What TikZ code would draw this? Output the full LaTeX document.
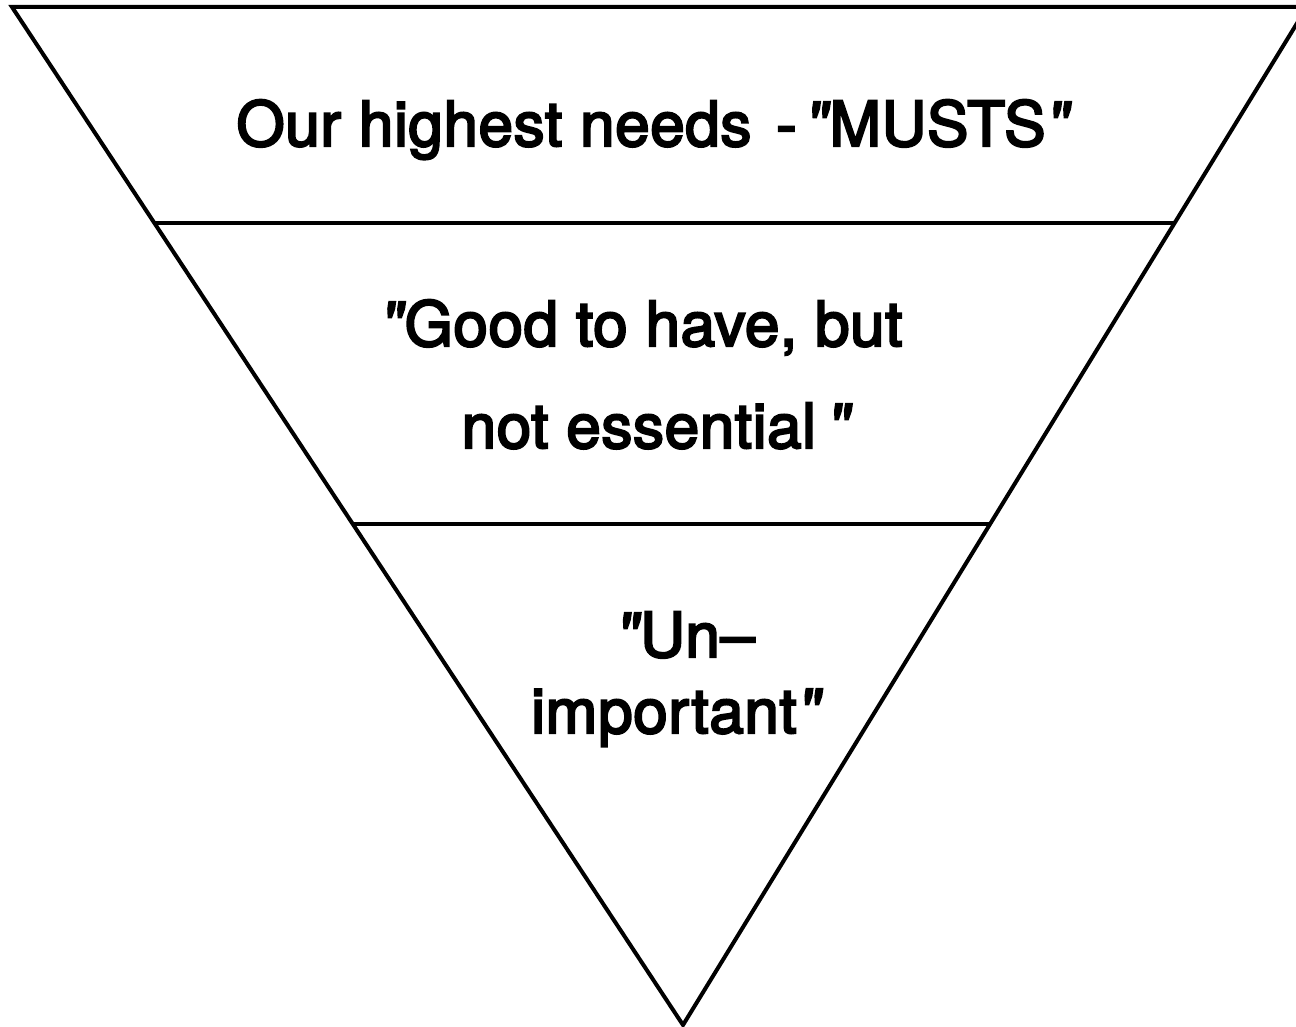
\documentclass[tikz,border=0pt]{standalone}
\usepackage{fontspec}
\setmainfont{TeX Gyre Heros}[Ligatures=TeX,FakeBold=3.5,LetterSpace=1]
\newfontfamily\quotefont{TeX Gyre Heros}[FakeSlant=0.15,FakeBold=3.5]
\usetikzlibrary{calc}
\newcommand{\qq}{{\quotefont"}}
\begin{document}
\begin{tikzpicture}[x=0.5pt,y=-0.5pt,
  edge/.style={line width=2pt,line join=miter},
  divider/.style={line width=1.6pt},
  label/.style={anchor=base,inner sep=0pt,font=\fontsize{31pt}{38pt}\selectfont}]
  \useasboundingbox (0,0) rectangle (1296,1027);
  \begin{scope}
    \clip (0,0) rectangle (1296,1027);
    % inverted triangle
    \coordinate (tl) at (12,7);
    \coordinate (tr) at (1307,7);
    \coordinate (apex) at (683,1025);
    \draw[edge] (tl) -- (tr) -- (apex) -- cycle;
    % level boundaries
    \coordinate (l1) at ($(tl)!0.2122!(apex)$);
    \coordinate (r1) at ($(tr)!0.2122!(apex)$);
    \coordinate (l2) at ($(tl)!0.5079!(apex)$);
    \coordinate (r2) at ($(tr)!0.5079!(apex)$);
    \draw[divider] (l1) -- (r1);
    \draw[divider] (l2) -- (r2);
  \end{scope}
  % level texts
  \node[label] (musts) at (652,146) {Our highest needs\hspace{0.4em}-\hspace{0.12em}\qq\kern0.05em MUSTS\qq};
  \node[label] (good1) at (641,346) {\qq\kern0.05em Good to have, but};
  \node[label] (good2) at (655,448) {not essential\,\qq};
  \node[label] (un1) at (685,657) {\qq\kern0.05em Un--};
  \node[label] (un2) at (675,733) {important\qq};
\end{tikzpicture}
\end{document}
